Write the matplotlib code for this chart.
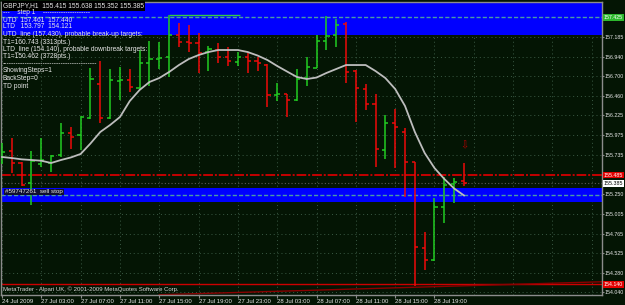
import matplotlib
matplotlib.use('Agg')
import matplotlib.pyplot as plt
import matplotlib.transforms as mtransforms

plt.rcParams['font.family'] = ['Liberation Sans', 'DejaVu Sans']

# GBPJPY H1 bars, 24 Jul 2009 23:00 .. 28 Jul 2009 22:00
opens = [155.646, 155.785, 155.634, 155.384, 155.622, 155.630, 155.732, 156.007, 155.979, 156.192,
         156.603, 156.192, 156.643, 156.656, 156.553, 156.869, 156.910, 156.935, 157.210, 157.127,
         157.107, 157.004, 157.025, 156.942, 156.881, 156.942, 156.890, 156.840, 156.471, 156.480,
         156.409, 156.677, 156.800, 157.139, 157.210, 157.341, 156.766, 156.545, 156.357, 155.794,
         156.123, 156.016, 155.643, 154.584, 154.440, 155.096, 155.375, 155.415]
highs = [155.884, 155.945, 155.646, 155.782, 155.945, 155.732, 156.123, 156.073, 156.212, 156.800,
         156.890, 156.787, 156.819, 156.787, 157.025, 157.136, 157.123, 157.461, 157.354, 157.333,
         157.231, 157.074, 157.115, 157.058, 157.004, 156.992, 156.935, 156.849, 156.622, 156.483,
         156.787, 156.935, 157.210, 157.440, 157.407, 157.373, 156.779, 156.606, 156.483, 156.225,
         156.295, 156.065, 155.650, 154.788, 155.199, 155.465, 155.446, 155.638]
lows = [155.622, 155.507, 155.345, 155.117, 155.588, 155.523, 155.708, 155.803, 155.794, 156.176,
        156.130, 156.172, 156.409, 156.512, 156.533, 156.582, 156.787, 156.689, 157.058, 157.004,
        156.746, 156.770, 156.861, 156.828, 156.828, 156.746, 156.770, 156.320, 156.401, 156.204,
        156.401, 156.585, 156.800, 157.025, 157.066, 156.622, 156.143, 156.286, 155.581, 155.683,
        155.569, 155.212, 154.121, 154.317, 154.428, 154.899, 155.138, 155.352]
closes = [155.769, 155.638, 155.363, 155.659, 155.671, 155.720, 156.000, 155.950, 156.196, 156.664,
          156.184, 156.656, 156.656, 156.573, 156.861, 156.910, 156.923, 157.210, 157.127, 157.107,
          156.984, 157.034, 156.942, 156.890, 156.942, 156.890, 156.861, 156.471, 156.483, 156.409,
          156.664, 156.812, 157.136, 157.197, 157.333, 156.758, 156.553, 156.357, 155.803, 156.123,
          156.081, 155.650, 154.596, 154.440, 155.096, 155.363, 155.404, 155.385]
ma = [155.708, 155.695, 155.679, 155.671, 155.662, 155.634, 155.671, 155.702, 155.745, 155.874,
      156.016, 156.102, 156.200, 156.397, 156.533, 156.631, 156.680, 156.754, 156.840, 156.914,
      156.963, 157.000, 157.025, 157.025, 157.025, 157.000, 156.957, 156.902, 156.828, 156.760,
      156.693, 156.668, 156.686, 156.742, 156.791, 156.840, 156.840, 156.840, 156.766, 156.680,
      156.545, 156.336, 156.016, 155.757, 155.572, 155.437, 155.320, 155.234]

time_labels = ['24 Jul 2009', '27 Jul 03:00', '27 Jul 07:00', '27 Jul 11:00', '27 Jul 15:00',
               '27 Jul 19:00', '27 Jul 23:00', '28 Jul 03:00', '28 Jul 07:00', '28 Jul 11:00',
               '28 Jul 15:00', '28 Jul 19:00']
time_label_pos = [0, 4, 8, 12, 16, 20, 24, 28, 32, 36, 40, 44]
price_ticks = [157.185, 156.940, 156.700, 156.460, 156.225, 155.975, 155.735, 155.490,
               155.250, 155.005, 154.765, 154.525, 154.280, 154.040]

info_lines = ['---    step 1    ---------------------',
              'UTD  157.461  157.440',
              'LTD   153.797  154.121',
              'UTD_line (157.430), probable break-up targets:',
              'T1=160.743 (3313pts.)',
              'LTD_line (154.140), probable downbreak targets:',
              'T1=150.462 (3728pts.)',
              '------------------------------------------',
              'ShowingSteps=1',
              'BackStep=0',
              'TD point']
info_y = [13, 20, 27, 34.5, 42, 49.5, 57, 64, 71, 78.5, 86]

bg = '#041504'
gridc = '#3a5a44'
up_c = '#22cc22'
dn_c = '#ee0a0a'
txt_c = '#e8e8e8'

W, H = 625, 305
fig = plt.figure(figsize=(W / 100, H / 100), dpi=100, facecolor=bg)
ax = fig.add_axes([1 / W, 10 / H, 601 / W, 293 / H], facecolor=bg)
ax.set_xlim(-0.1, 61.04)
ax.set_ylim(154.009, 157.616)

for s in ax.spines.values():
    s.set_color('#8c8c8c')
    s.set_linewidth(1)

# grid
for x in range(0, 62, 4):
    ax.axvline(x, color=gridc, lw=0.7, ls=(0, (1, 3)), zorder=0)
for y in price_ticks:
    ax.axhline(y, color=gridc, lw=0.7, ls=(0, (1, 3)), zorder=0)

# zones
ax.axhspan(157.210, 157.616, color='#0000ff', lw=0, zorder=1)
ax.axhspan(155.158, 155.332, color='#0000ff', lw=0, zorder=1)
ax.axhline(157.430, color='#4a9aa6', lw=1.0, ls=(0, (3, 1.5)), zorder=2)
ax.axhline(155.235, color='#4a9aa6', lw=1.0, ls=(0, (3, 1.5)), zorder=2)
ax.hlines(157.458, 17, 24.2, color='#33cc44', lw=1.0, zorder=2)

ax.axhline(155.485, color='#c40000', lw=1.4, ls=(0, (5, 1, 1, 1)), zorder=2)
ax.axhline(155.385, color='#5a5a5a', lw=0.8, ls=(0, (1, 2)), zorder=2)
ax.axhline(154.140, color='#cc0000', lw=1.0, zorder=2)
ax.plot([16, 61.04], [154.012, 154.172], color='#8a0000', lw=1.0, zorder=2)

# bars
idx = list(range(len(opens)))
for i in idx:
    c = up_c if closes[i] >= opens[i] else dn_c
    ax.vlines(i, lows[i], highs[i], color=c, lw=1.1, zorder=3)
    ax.hlines(opens[i], i - 0.32, i, color=c, lw=1.1, zorder=3)
    ax.hlines(closes[i], i, i + 0.32, color=c, lw=1.1, zorder=3)

ax.plot(idx, ma, color='#bdbdbd', lw=1.3, zorder=4)
ax.text(47, 155.847, '\u21e9', color='#b00000', fontsize=7, ha='center', va='center',
        family='DejaVu Sans', zorder=5)

# axes ticks
ax.yaxis.tick_right()
ax.set_yticks(price_ticks)
ax.set_yticklabels(['' if p == 155.490 else '%.3f' % p for p in price_ticks])
ax.tick_params(axis='y', direction='out', length=1.5, width=0.8, color='#8c8c8c',
               labelsize=3.8, labelcolor=txt_c, pad=0.6)
ax.set_xticks(time_label_pos)
ax.set_xticklabels(time_labels, ha='left')
ax.tick_params(axis='x', direction='out', length=2, width=0.8, color='#8c8c8c',
               labelsize=4.3, labelcolor=txt_c, pad=1)

# price tags on the right scale
trans = mtransforms.blended_transform_factory(ax.transAxes, ax.transData)
tags = [(157.425, '#2db82d', 'white'), (155.485, '#e00000', 'white'),
        (155.385, 'white', 'black'), (154.140, '#e00000', 'white')]
for p, fc, tc in tags:
    ax.text(1.003, p, '%.3f' % p, transform=trans, fontsize=3.8, color=tc, ha='left',
            va='center', clip_on=False, zorder=6,
            bbox=dict(boxstyle='square,pad=0.15', fc=fc, ec='none'))

# text overlays
fig.text(3 / W, 1 - 6 / H, 'GBPJPY,H1  155.415 155.638 155.352 155.385', fontsize=4.8,
         color=txt_c, va='center', ha='left',
         bbox=dict(boxstyle='square,pad=0.2', fc='black', ec='none'))
for t, y in zip(info_lines, info_y):
    fig.text(3 / W, 1 - y / H, t, fontsize=4.8, color=txt_c, va='center', ha='left')
fig.text(5 / W, 1 - 192 / H, '#59747261  sell stop', fontsize=4.5, color=txt_c,
         va='center', ha='left', bbox=dict(boxstyle='square,pad=0.15', fc='#101030', ec='none'))
fig.text(3 / W, 1 - 289.5 / H, 'MetaTrader - Alpari UK, \u00a9 2001-2009 MetaQuotes Software Corp.',
         fontsize=4.3, color='#d8d8d8', va='center', ha='left')

fig.savefig('out.png', dpi=100, facecolor=bg)
